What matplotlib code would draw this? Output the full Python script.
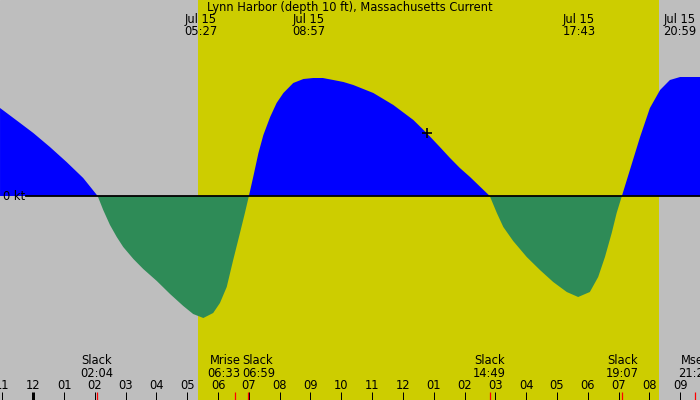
import matplotlib
matplotlib.use('Agg')
import matplotlib.pyplot as plt
import matplotlib.transforms as mtransforms

# current curve (hours from midnight Jul 15, knots)
hours = [-1.08, -0.43, 0.0, 0.54, 1.08, 1.62, 2.09, 2.27, 2.49, 2.71, 2.92, 3.25,
         3.57, 4.01, 4.44, 4.87, 5.19, 5.52, 5.84, 6.06, 6.28, 6.49, 6.71, 6.87,
         7.0, 7.14, 7.31, 7.47, 7.69, 7.90, 8.12, 8.44, 8.77, 9.09, 9.4, 9.74, 10.07,
         10.39, 11.04, 11.69, 12.34, 12.77, 13.20, 13.53, 13.85, 14.18, 14.82,
         15.05, 15.26, 15.58, 16.02, 16.45, 16.88, 17.32, 17.69, 18.07, 18.34,
         18.56, 18.78, 18.94, 19.11, 19.37, 19.70, 20.02, 20.35, 20.67, 21.0, 21.65]
knots = [0.88, 0.73, 0.63, 0.49, 0.34, 0.18, 0.0, -0.14, -0.29, -0.41, -0.51, -0.63,
         -0.73, -0.85, -0.98, -1.10, -1.18, -1.22, -1.17, -1.07, -0.91, -0.64, -0.37, -0.17,
         0.0, 0.19, 0.43, 0.61, 0.79, 0.93, 1.03, 1.13, 1.17, 1.18, 1.18, 1.16, 1.14,
         1.11, 1.03, 0.91, 0.76, 0.63, 0.49, 0.38, 0.28, 0.19, 0.0,
         -0.17, -0.31, -0.45, -0.61, -0.74, -0.86, -0.96, -1.01, -0.96, -0.81,
         -0.61, -0.37, -0.17, 0.0, 0.26, 0.59, 0.88, 1.06, 1.16, 1.19, 1.19]

# daylight
sunrise = 5.35
sunset = 20.33

# max current times (top labels)
max_times = [5.45, 8.95, 17.717, 20.983]
max_labels = ['Jul 15\n05:27', 'Jul 15\n08:57', 'Jul 15\n17:43', 'Jul 15\n20:59']

# events along the bottom
event_times = [2.067, 6.55, 6.983, 14.817, 19.117, 21.47]
event_labels = ['Slack\n02:04', 'Mrise\n06:33', 'Slack\n06:59', 'Slack\n14:49',
                'Slack\n19:07', 'Mset\n21:28']

# hour ticks
tick_hours = list(range(-1, 22))
tick_labels = ['%02d' % (((h % 12) or 12)) for h in tick_hours]

now_time = 12.78
now_knots = 0.63

title = 'Lynn Harbor (depth 10 ft), Massachusetts Current'

gray = '#bebebe'
yellow = '#cdcd00'
fs = 8.3

fig = plt.figure(figsize=(7, 4), dpi=100)
ax = fig.add_axes([0, 0, 1, 1])
ax.set_xlim(-1.081, 21.646)
ax.set_ylim(-2.04, 1.96)
ax.axis('off')
ax.add_patch(plt.Rectangle((0, 0), 1, 1, transform=ax.transAxes, color=gray, zorder=0))
ax.axvspan(sunrise, sunset, color=yellow, zorder=1, lw=0)

ax.fill_between(hours, knots, 0, where=[k >= 0 for k in knots], interpolate=True,
                color='#0000ff', lw=0, zorder=2)
ax.fill_between(hours, knots, 0, where=[k <= 0 for k in knots], interpolate=True,
                color='#2e8b57', lw=0, zorder=2)

ax.axhline(0, xmin=26 / 700, xmax=1, color='black', lw=1.3, zorder=3)
ax.text(-1.081 + 3 / 30.8, 0, '0 kt', fontsize=fs, va='center', ha='left', zorder=4)
ax.plot(now_time, now_knots, '+', color='black', ms=7, mew=1.2, zorder=5)

trans = mtransforms.blended_transform_factory(ax.transData, ax.transAxes)

# hour ticks
for h, lab in zip(tick_hours, tick_labels):
    lw = 3 if h == 0 else 1
    ax.plot([h, h], [0, 0.02], color='black', lw=lw * 0.72, transform=trans,
            zorder=4, solid_capstyle='butt')
    ax.text(h, 0.036, lab, fontsize=fs, ha='center', va='center', transform=trans)

# event ticks and labels
for i, (t, lab) in enumerate(zip(event_times, event_labels)):
    ax.plot([t, t], [0, 0.02], color='red', lw=0.9, transform=trans, zorder=5,
            solid_capstyle='butt')
    ha = 'center'
    x = t
    # push apart labels that would overlap
    if i + 1 < len(event_times) and event_times[i + 1] - t < 1.0:
        x = (t + event_times[i + 1]) / 2 - 0.03
        ha = 'right'
    elif i > 0 and t - event_times[i - 1] < 1.0:
        x = (t + event_times[i - 1]) / 2 + 0.03
        ha = 'left'
    ax.text(x, 0.082, lab, fontsize=fs, ha=ha, va='center', linespacing=0.95,
            transform=trans)

# max current labels
for t, lab in zip(max_times, max_labels):
    ax.text(t, 0.936, lab, fontsize=fs, ha='center', va='center', linespacing=0.95,
            transform=trans)

ax.text(0.5, 0.982, title, fontsize=fs, ha='center', va='center', transform=ax.transAxes)

fig.savefig('out.png', dpi=100)
